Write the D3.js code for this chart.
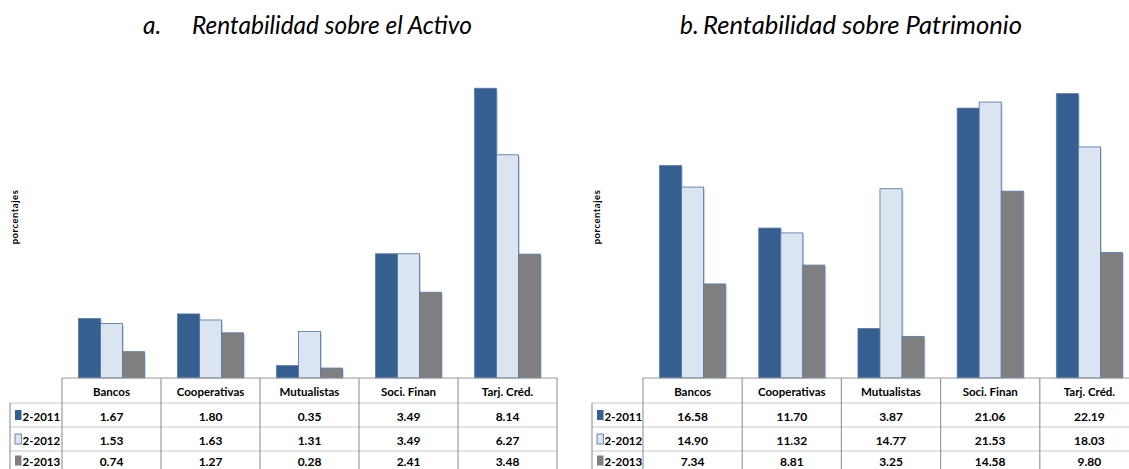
<!DOCTYPE html>
<html><head><meta charset="utf-8">
<script src="https://cdn.jsdelivr.net/npm/d3@7/dist/d3.min.js"></script>
<style>
html,body{margin:0;padding:0;background:#fff;}
svg{display:block;font-family:Lato,"Open Sans",sans-serif;}
</style></head>
<body><svg id="c" width="1129" height="469"></svg>
<script>
const categories = ["Bancos","Cooperativas","Mutualistas","Soci. Finan","Tarj. Créd."];
const seriesNames = ["2-2011","2-2012","2-2013"];
const roa2011 = [1.67,1.80,0.35,3.49,8.14];
const roa2012 = [1.53,1.63,1.31,3.49,6.27];
const roa2013 = [0.74,1.27,0.28,2.41,3.48];
const roe2011 = [16.58,11.70,3.87,21.06,22.19];
const roe2012 = [14.90,11.32,14.77,21.53,18.03];
const roe2013 = [7.34,8.81,3.25,14.58,9.80];
const titlePrefixes = ["a.","b."];
const titleTexts = ["Rentabilidad sobre el Activo","Rentabilidad sobre Patrimonio"];
const yLabel = "porcentajes";
const yMax = [9,25];

const fills = ["#365F91","#DBE5F1","#7F7F7F"];
const svg = d3.select("#c");

const panels = [
  {pre:titlePrefixes[0], title:titleTexts[0], preX:143, titleX:192, titleW:280,
   data:[roa2011,roa2012,roa2013], ymax:yMax[0], lx:10, x0:62, x1:557, ylabX:18},
  {pre:titlePrefixes[1], title:titleTexts[1], preX:680, titleX:703, titleW:319,
   data:[roe2011,roe2012,roe2013], ymax:yMax[1], lx:592, x0:643, x1:1139, ylabX:600}
];

const baseY = 378, plotTop = 57.6;
const rowY = [378,403,427,451,475];
const rowBase = [420.5, 444.5, 466];

panels.forEach(p=>{
  const g = svg.append("g");
  g.append("text").attr("x",p.preX).attr("y",34)
    .attr("font-size",24.5).attr("font-style","italic").attr("fill","#000").text(p.pre);
  g.append("text").attr("x",p.titleX).attr("y",34)
    .attr("font-size",24.5).attr("font-style","italic").attr("fill","#000")
    .attr("textLength",p.titleW).attr("lengthAdjust","spacingAndGlyphs").text(p.title);
  g.append("text").attr("transform",`translate(${p.ylabX},217) rotate(-90)`)
    .attr("text-anchor","middle").attr("font-size",9.5).attr("font-weight","bold")
    .attr("letter-spacing",0.5).text(yLabel);

  const x = d3.scaleBand().domain(categories).range([p.x0,p.x1]).paddingInner(0).paddingOuter(0);
  const xs = d3.scaleBand().domain(seriesNames).range([0,x.bandwidth()]).paddingInner(0).paddingOuter(0.75);
  const y = d3.scaleLinear().domain([0,p.ymax]).range([baseY,plotTop]);

  seriesNames.forEach((s,si)=>{
    const vals = p.data[si];
    g.selectAll(null).data(categories).enter().append("rect")
      .attr("x",c=>x(c)+xs(s)+1.5).attr("y",(c,i)=>y(vals[i])+1.5)
      .attr("width",xs.bandwidth()).attr("height",(c,i)=>baseY-y(vals[i])-1.5)
      .attr("fill","#c3cfe0").attr("opacity",0.8);
    g.selectAll(null).data(categories).enter().append("rect")
      .attr("x",c=>x(c)+xs(s)).attr("y",(c,i)=>y(vals[i]))
      .attr("width",xs.bandwidth()).attr("height",(c,i)=>baseY-y(vals[i]))
      .attr("fill",fills[si]).attr("stroke",si===1?"#4f6f9e":"#5a7bab").attr("stroke-width",0.8);
  });

  const hcol = "#c6c6c6", vcol = "#9a9a9a";
  rowY.forEach((ry,ri)=>{
    g.append("line").attr("x1",ri===0?p.x0:p.lx).attr("x2",p.x1).attr("y1",ry).attr("y2",ry)
      .attr("stroke",ri===0?"#9a9a9a":hcol).attr("stroke-width",1);
  });
  const vx = [p.x0].concat(categories.map(c=>x(c)+x.bandwidth()));
  vx.forEach(vxx=>{
    g.append("line").attr("x1",vxx).attr("x2",vxx).attr("y1",378).attr("y2",475)
      .attr("stroke",vcol).attr("stroke-width",1.2);
  });
  g.append("line").attr("x1",p.lx).attr("x2",p.lx).attr("y1",403).attr("y2",475)
      .attr("stroke",vcol).attr("stroke-width",1.2);

  g.selectAll(null).data(categories).enter().append("text")
    .attr("x",c=>x(c)+x.bandwidth()/2).attr("y",396).attr("text-anchor","middle")
    .attr("font-size",11.5).attr("font-weight","bold").attr("fill","#000").text(c=>c);
  seriesNames.forEach((s,si)=>{
    const cy = (rowY[si+1]+rowY[si+2])/2;
    const by = rowBase[si];
    g.append("rect").attr("x",p.lx+5).attr("y",by-10.5).attr("width",6.5).attr("height",10)
      .attr("fill",fills[si]).attr("stroke",si===1?"#4f6f9e":"none").attr("stroke-width",0.8);
    g.append("text").attr("x",p.lx+12.5).attr("y",by).attr("font-size",11.5).attr("font-weight","bold")
      .text(s);
    g.selectAll(null).data(categories).enter().append("text")
      .attr("x",c=>x(c)+x.bandwidth()/2).attr("y",by).attr("text-anchor","middle")
      .attr("font-size",12).attr("font-weight","bold").text((c,i)=>p.data[si][i].toFixed(2));
  });
});
</script></body></html>
